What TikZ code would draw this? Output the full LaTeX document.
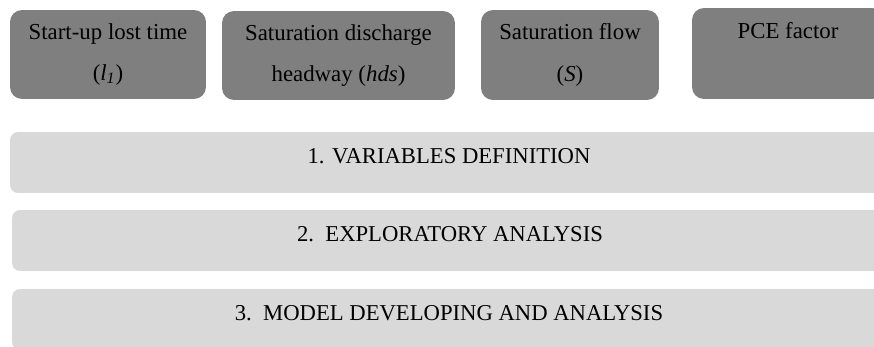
\documentclass[tikz,border=0pt]{standalone}
\usepackage{fontspec}
\setmainfont{Liberation Serif}
\definecolor{vardark}{HTML}{7F7F7F}
\definecolor{steplight}{HTML}{D9D9D9}

\begin{document}
\begin{tikzpicture}[x=0.02cm, y=-0.02cm,
    varbox/.style={rectangle, rounded corners=0.24cm, fill=vardark, inner sep=0pt,
      minimum height=1.78cm, align=center,
      font=\fontsize{13}{23.5}\selectfont},
    stepbar/.style={rectangle, rounded corners=0.16cm, fill=steplight, inner sep=0pt,
      minimum height=1.22cm, minimum width=17.56cm, text height=8.5pt, text depth=7.7pt,
      font=\fontsize{12.9}{15}\selectfont}]
  \useasboundingbox (0,0) rectangle (874,347);

  % variables
  \node[varbox, minimum width=3.92cm] (lost) at (108,54.5) {Start-up lost time\\(\textit{l\textsubscript{1}})};
  \node[varbox, minimum width=4.66cm] (hds) at (338.5,55.5) {Saturation discharge\\headway (\textit{hds})};
  \node[varbox, minimum width=3.56cm, minimum height=1.8cm] (flow) at (570,55) {Saturation flow\\(\textit{S})};
  \node[varbox, minimum width=3.84cm, minimum height=1.82cm] (pce) at (788,53.5) {PCE factor\\ \phantom{(S)}};

  % steps
  \node[stepbar] (def) at (449,162.5) {1. VARIABLES DEFINITION};
  \node[stepbar, minimum width=17.52cm] (expl) at (450,240.5) {2.\ \ EXPLORATORY ANALYSIS};
  \node[stepbar, minimum width=17.48cm] (model) at (449,319.5) {3.\ \ MODEL DEVELOPING AND ANALYSIS};
\end{tikzpicture}
\end{document}
